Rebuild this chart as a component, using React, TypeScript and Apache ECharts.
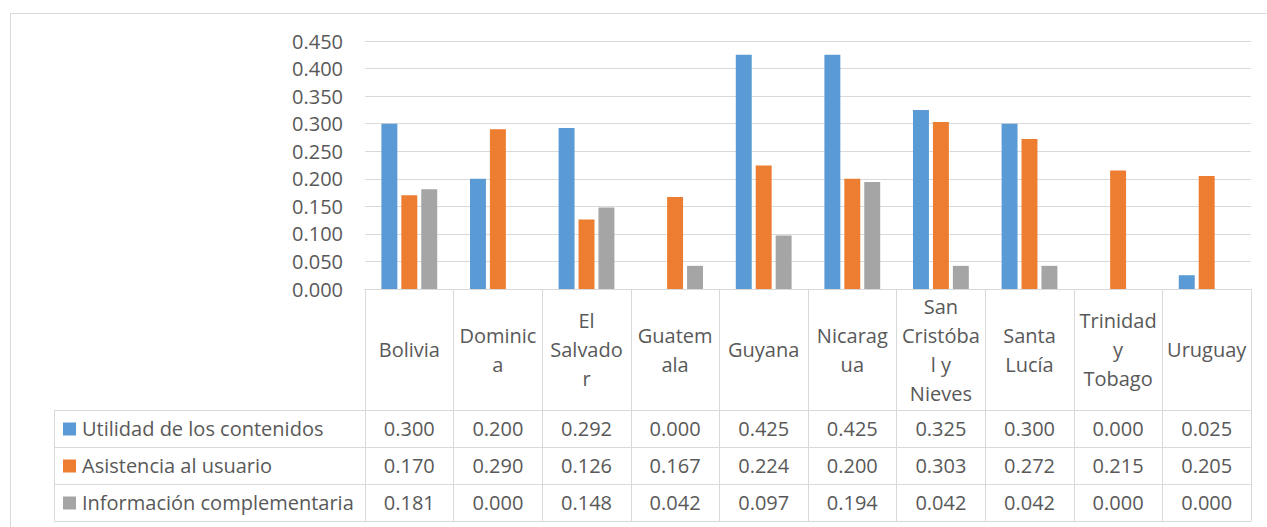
import React, { useEffect, useRef } from "react";
import * as echarts from "echarts";

const categories = [
  "Bolivia",
  "Dominica",
  "El Salvador",
  "Guatemala",
  "Guyana",
  "Nicaragua",
  "San Cristóbal y Nieves",
  "Santa Lucía",
  "Trinidad y Tobago",
  "Uruguay",
];
const headerLabels = [
  "Bolivia",
  "Dominic\na",
  "El\nSalvado\nr",
  "Guatem\nala",
  "Guyana",
  "Nicarag\nua",
  "San\nCristóba\nl y\nNieves",
  "Santa\nLucía",
  "Trinidad\ny\nTobago",
  "Uruguay",
];
const seriesNames = [
  "Utilidad de los contenidos",
  "Asistencia al usuario",
  "Información complementaria",
];
const utilidad = [0.3, 0.2, 0.292, 0.0, 0.425, 0.425, 0.325, 0.3, 0.0, 0.025];
const asistencia = [0.17, 0.29, 0.126, 0.167, 0.224, 0.2, 0.303, 0.272, 0.215, 0.205];
const informacion = [0.181, 0.0, 0.148, 0.042, 0.097, 0.194, 0.042, 0.042, 0.0, 0.0];
const seriesValues = [utilidad, asistencia, informacion];
const colors = ["#5B9BD5", "#ED7D31", "#A5A5A5"];
const yMin = 0;
const yMax = 0.45;
const yInterval = 0.05;

const W = 1267;
const H = 527;
const GRID_LEFT = 365;
const GRID_RIGHT_X = 1251;
const GRID_TOP = 41;
const GRID_BOTTOM_Y = 289;
const HEADER_H = 121;
const ROW_H = 37;
const TABLE_LEFT = 54;
const FONT = "'Open Sans', sans-serif";
const TEXT_COLOR = "#595959";
const LINE_COLOR = "#D9D9D9";
const FS = 20;

export default function App() {
  const ref = useRef<HTMLDivElement>(null);
  useEffect(() => {
    if (!ref.current) return;
    const chart = echarts.init(ref.current, undefined, { renderer: "svg" });
    const tableTop = GRID_BOTTOM_Y + HEADER_H;
    const tableBottom = tableTop + ROW_H * seriesNames.length;
    chart.setOption({
      animation: false,
      textStyle: { fontFamily: FONT },
      grid: {
        left: GRID_LEFT,
        right: W - GRID_RIGHT_X,
        top: GRID_TOP,
        bottom: H - GRID_BOTTOM_Y,
        containLabel: false,
      },
      xAxis: {
        type: "category",
        data: categories,
        axisLine: { show: true, lineStyle: { color: LINE_COLOR, width: 1 } },
        axisTick: {
          show: true,
          interval: 0,
          length: tableBottom - GRID_BOTTOM_Y,
          lineStyle: { color: LINE_COLOR, width: 1 },
        },
        axisLabel: {
          interval: 0,
          margin: HEADER_H / 2,
          verticalAlign: "middle",
          align: "center",
          lineHeight: 29,
          color: TEXT_COLOR,
          fontSize: FS,
          fontFamily: FONT,
          formatter: (_v: string, i: number) => headerLabels[i],
        },
      },
      yAxis: {
        type: "value",
        min: yMin,
        max: yMax,
        interval: yInterval,
        axisLine: { show: false },
        axisTick: { show: false },
        splitLine: { lineStyle: { color: LINE_COLOR, width: 1 } },
        axisLabel: {
          margin: 22,
          color: TEXT_COLOR,
          fontSize: FS,
          fontFamily: FONT,
          formatter: (v: number) => v.toFixed(3),
        },
      },
      series: seriesNames.map((name, s) => ({
        name,
        type: "bar",
        data: seriesValues[s],
        itemStyle: { color: colors[s] },
        barGap: "25%",
        barCategoryGap: "37%",
      })),
    });

    const graphics: any[] = [];
    graphics.push({
      type: "rect",
      shape: { x: 10.5, y: 13.5, width: 1400, height: 700 },
      style: { fill: "none", stroke: LINE_COLOR, lineWidth: 1 },
      silent: true,
    });
    for (let r = 0; r <= seriesNames.length; r++) {
      const y = tableTop + r * ROW_H + 0.5;
      graphics.push({
        type: "line",
        shape: { x1: TABLE_LEFT, y1: y, x2: GRID_RIGHT_X, y2: y },
        style: { stroke: LINE_COLOR, lineWidth: 1 },
      });
    }
    graphics.push({
      type: "line",
      shape: { x1: TABLE_LEFT + 0.5, y1: tableTop, x2: TABLE_LEFT + 0.5, y2: tableBottom },
      style: { stroke: LINE_COLOR, lineWidth: 1 },
    });
    seriesNames.forEach((name, s) => {
      const cy = tableTop + s * ROW_H + ROW_H / 2;
      graphics.push({
        type: "rect",
        shape: { x: 63, y: cy - 6, width: 13, height: 13 },
        style: { fill: colors[s] },
      });
      graphics.push({
        type: "text",
        x: 82,
        y: cy,
        style: {
          text: name,
          fill: TEXT_COLOR,
          font: `${FS}px ${FONT}`,
          textAlign: "left",
          textVerticalAlign: "middle",
        },
      });
      seriesValues[s].forEach((v, i) => {
        const px = chart.convertToPixel({ xAxisIndex: 0 }, i) as number;
        graphics.push({
          type: "text",
          x: px,
          y: cy,
          style: {
            text: v.toFixed(3),
            fill: TEXT_COLOR,
            font: `${FS}px ${FONT}`,
            textAlign: "center",
            textVerticalAlign: "middle",
          },
        });
      });
    });
    chart.setOption({ graphic: graphics });
    return () => chart.dispose();
  }, []);
  return (
    <div
      ref={ref}
      style={{ position: "absolute", left: 0, top: 0, width: W, height: H, background: "#fff" }}
    />
  );
}
